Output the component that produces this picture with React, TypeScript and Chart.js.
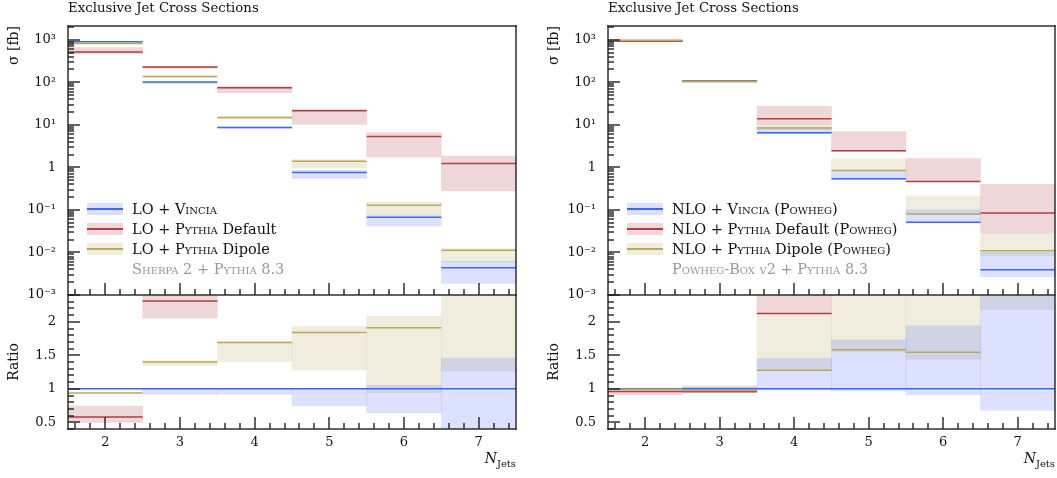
import React, { useEffect, useRef } from 'react';
import { Chart, registerables } from 'chart.js';

Chart.register(...registerables);

const FONT = "'DejaVu Serif', serif";

// ---------- axes ----------
const categories = [2, 3, 4, 5, 6, 7];
const xTickValues = [2, 3, 4, 5, 6, 7];
const yTickValues = [1e-3, 1e-2, 1e-1, 1, 10, 100, 1000];
const yTickLabels = ['10⁻³', '10⁻²', '10⁻¹', '1', '10¹', '10²', '10³'];
const ratioTickValues = [0.5, 1, 1.5, 2];
const ratioTickLabels = ['0.5', '1', '1.5', '2'];
const xMin = 1.5, xMax = 7.5;
const yMin = 1e-3, yMax = 2100;
const ratioMin = 0.4, ratioMax = 2.4;

// ---------- LO panel (cross sections, fb) ----------
const loVincia = [890, 101, 8.7, 0.755, 0.0675, 0.00437];
const loVinciaLo = [875, 93, 8.2, 0.546, 0.042, 0.00186];
const loVinciaHi = [905, 102, 9.0, 0.855, 0.076, 0.0062];
const loDefault = [512, 228, 74.6, 21.5, 5.28, 1.23];
const loDefaultLo = [470, 212, 57, 10.2, 1.75, 0.28];
const loDefaultHi = [650, 238, 79, 23, 6.56, 1.85];
const loDipole = [820, 137, 14.8, 1.39, 0.129, 0.0113];
const loDipoleLo = [805, 131, 13.8, 0.97, 0.076, 0.006];
const loDipoleHi = [835, 142, 15.4, 1.52, 0.151, 0.0124];

// LO ratios
const rLoVincia = [1, 1, 1, 1, 1, 1];
const rLoVinciaLo = [null, 0.916, 0.916, 0.743, 0.644, 0.3];
const rLoVinciaHi = [null, 1.0, 1.0, 1.0, 1.054, 1.46];
const rLoDefault = [0.58, 2.31, 8.6, 28.5, 78, 281];
const rLoDefaultLo = [0.5, 2.054, null, null, null, null];
const rLoDefaultHi = [0.743, 2.6, null, null, null, null];
const rLoDipole = [0.936, 1.4, 1.69, 1.84, 1.91, 2.59];
const rLoDipoleLo = [null, 1.35, 1.41, 1.277, 0.94, 1.267];
const rLoDipoleHi = [null, 1.42, 1.71, 1.93, 2.08, 3.0];

// ---------- NLO panel ----------
const nloVincia = [960, 108, 6.5, 0.537, 0.051, 0.0039];
const nloVinciaLo = [950, 106, 6.1, 0.52, 0.049, 0.0027];
const nloVinciaHi = [970, 110, 8.8, 0.84, 0.1, 0.01];
const nloDefault = [925, 104, 13.8, 2.44, 0.464, 0.085];
const nloDefaultLo = [915, 102, 10.4, 2.4, 0.46, 0.028];
const nloDefaultHi = [935, 106, 27, 6.9, 1.6, 0.4];
const nloDipole = [960, 106, 8.36, 0.84, 0.0805, 0.011];
const nloDipoleLo = [950, 104, 7.6, 0.81, 0.08, 0.0084];
const nloDipoleHi = [970, 108, 10.4, 1.58, 0.21, 0.027];

// NLO ratios
const rNloVincia = [1, 1, 1, 1, 1, 1];
const rNloVinciaLo = [0.99, 0.98, 0.98, 0.97, 0.91, 0.68];
const rNloVinciaHi = [1.01, 1.02, 1.455, 1.73, 1.94, 3.0];
const rNloDefault = [0.96, 0.955, 2.124, 4.5, 9.1, 21.8];
const rNloDefaultLo = [0.91, 0.955, 2.12, null, null, null];
const rNloDefaultHi = [1.0, 1.04, 2.6, null, null, null];
const rNloDipole = [0.995, 0.975, 1.277, 1.584, 1.545, 2.82];
const rNloDipoleLo = [null, null, 1.27, 1.55, 1.44, 2.18];
const rNloDipoleHi = [null, null, 2.12, 2.6, 2.6, 3.0];

// ---------- styles ----------
const BLUE = '#3b68ee';
const BLUE_BAND = 'rgba(80,105,255,0.2)';
const RED = '#b03f40';
const RED_BAND = 'rgba(175,55,65,0.2)';
const OLIVE = '#b9aa55';
const OLIVE_BAND = 'rgba(185,175,110,0.22)';
const AXIS = '#222';

function bandDs(lo: (number | null)[], hi: (number | null)[], color: string, axis: string, order: number) {
  const data: any[] = [];
  categories.forEach((c, i) => {
    if (lo[i] != null && hi[i] != null) data.push({ x: c, y: [lo[i], hi[i]] });
  });
  return {
    type: 'bar',
    data,
    backgroundColor: color,
    borderWidth: 0,
    grouped: false,
    barPercentage: 1,
    categoryPercentage: 1,
    yAxisID: axis,
    order,
    clip: 0,
  };
}

function lineDs(vals: number[], color: string, axis: string, order: number) {
  const data: any[] = [];
  categories.forEach((c, i) => {
    data.push({ x: c - 0.5, y: vals[i] });
    data.push({ x: c + 0.5, y: vals[i] });
    data.push({ x: c + 0.5, y: null });
  });
  return {
    type: 'line',
    data,
    borderColor: color,
    borderWidth: 1.5,
    pointRadius: 0,
    fill: false,
    spanGaps: false,
    tension: 0,
    yAxisID: axis,
    order,
    clip: 0,
  };
}

const framePlugin = {
  id: 'frame',
  afterDraw(chart: any) {
    const ctx = chart.ctx as CanvasRenderingContext2D;
    const x = chart.scales.x;
    const y = chart.scales.y;
    const r = chart.scales.ratio;
    ctx.save();
    ctx.fillStyle = AXIS;
    const W = 1.4;
    const L = Math.round(x.left);
    const R = Math.round(x.right);
    const T = Math.round(y.top);
    const M = Math.round(y.bottom);
    const B = Math.round(r.bottom);
    // frame
    ctx.fillRect(L - 0.7, T - 0.7, R - L + 1.4, W);
    ctx.fillRect(L - 0.7, M - 0.7, R - L + 1.4, W);
    ctx.fillRect(L - 0.7, B - 0.7, R - L + 1.4, W);
    ctx.fillRect(L - 0.7, T - 0.7, W, B - T + 1.4);
    ctx.fillRect(R - 0.7, T - 0.7, W, B - T + 1.4);
    // x ticks (major at integers, minor every 0.2)
    for (let k = 8; k <= 37; k++) {
      const px = Math.round(x.getPixelForValue(k / 5));
      const len = k % 5 === 0 ? 12 : 6;
      ctx.fillRect(px - 0.7, M - len, 1.4, len);
      ctx.fillRect(px - 0.7, B - len, 1.4, len);
    }
    // log y ticks
    for (let e = -3; e <= 3; e++) {
      for (let m = 1; m <= 9; m++) {
        const v = m * Math.pow(10, e);
        if (v > yMax || v < yMin) continue;
        const py = Math.round(y.getPixelForValue(v));
        const len = m === 1 ? 12 : 6;
        ctx.fillRect(L, py - 0.7, len, 1.4);
      }
    }
    // ratio y ticks
    for (let k = 4; k <= 24; k++) {
      const py = Math.round(r.getPixelForValue(k / 10));
      const len = k % 5 === 0 ? 12 : 6;
      ctx.fillRect(L, py - 0.7, len, 1.4);
    }
    ctx.restore();
  },
};

type Series = { vals: number[]; lo: (number | null)[]; hi: (number | null)[]; line: string; band: string };

function buildDatasets(top: Series[], ratio: Series[]) {
  const ds: any[] = [];
  // bands drawn first (higher order), lines last; olive line on top, blue at the bottom
  top.forEach((s, i) => ds.push(bandDs(s.lo, s.hi, s.band, 'y', 10 + i)));
  ratio.forEach((s, i) => ds.push(bandDs(s.lo, s.hi, s.band, 'ratio', 10 + i)));
  top.forEach((s, i) => ds.push(lineDs(s.vals, s.line, 'y', 3 - i)));
  ratio.forEach((s, i) => ds.push(lineDs(s.vals, s.line, 'ratio', 3 - i)));
  return ds;
}

const tickFont = { family: FONT, size: 13 };

function makeOptions(padRight: number) {
  return {
    responsive: false,
    animation: false,
    events: [],
    layout: { padding: { top: 26, right: padRight, left: 0, bottom: 0 } },
    plugins: { legend: { display: false }, tooltip: { enabled: false }, title: { display: false } },
    scales: {
      x: {
        type: 'linear',
        min: xMin,
        max: xMax,
        offset: false,
        grid: { display: false, drawTicks: false },
        border: { display: false },
        afterBuildTicks: (s: any) => {
          s.ticks = xTickValues.map((v) => ({ value: v }));
        },
        afterFit: (s: any) => {
          s.height = 49;
        },
        ticks: {
          font: tickFont,
          color: '#111',
          padding: 6,
          autoSkip: false,
          maxRotation: 0,
          callback: (v: any) => String(v),
        },
      },
      ratio: {
        type: 'linear',
        axis: 'y',
        position: 'left',
        stack: 'panel',
        stackWeight: 134,
        weight: 0,
        min: ratioMin,
        max: ratioMax,
        grid: { display: false, drawTicks: false },
        border: { display: false },
        afterBuildTicks: (s: any) => {
          s.ticks = ratioTickValues.map((v) => ({ value: v }));
        },
        afterFit: (s: any) => {
          s.width = 68;
        },
        ticks: {
          font: tickFont,
          color: '#111',
          padding: 12,
          autoSkip: false,
          callback: (v: any) => {
            const i = ratioTickValues.findIndex((t) => Math.abs(t - v) < 1e-9);
            return i >= 0 ? ratioTickLabels[i] : '';
          },
        },
        title: {
          display: true,
          text: 'Ratio',
          font: { family: FONT, size: 14 },
          color: '#111',
          padding: { top: 6, bottom: 0 },
        },
      },
      y: {
        type: 'logarithmic',
        position: 'left',
        stack: 'panel',
        stackWeight: 269,
        weight: 1,
        min: yMin,
        max: yMax,
        grid: { display: false, drawTicks: false },
        border: { display: false },
        afterBuildTicks: (s: any) => {
          s.ticks = yTickValues.map((v) => ({ value: v }));
        },
        afterFit: (s: any) => {
          s.width = 68;
        },
        ticks: {
          font: tickFont,
          color: '#111',
          padding: 12,
          autoSkip: false,
          callback: (v: any) => {
            const i = yTickValues.findIndex((t) => Math.abs(Math.log10(t) - Math.log10(v)) < 1e-6);
            return i >= 0 ? yTickLabels[i] : '';
          },
        },
        title: {
          display: true,
          text: 'σ [fb]',
          align: 'end',
          font: { family: FONT, size: 14 },
          color: '#111',
          padding: { top: 6, bottom: 0 },
        },
      },
    },
  };
}

const SC = ({ children }: any) => <span style={{ fontVariant: 'small-caps' }}>{children}</span>;

function LegendRow({ top, band, line, children }: any) {
  return (
    <div
      style={{
        position: 'absolute',
        left: 87,
        top,
        height: 20,
        display: 'flex',
        alignItems: 'center',
        whiteSpace: 'nowrap',
      }}
    >
      <div style={{ position: 'relative', width: 36, height: 12, background: band }}>
        <div style={{ position: 'absolute', left: 0, right: 0, top: 5, height: 1.5, background: line }} />
      </div>
      <span style={{ marginLeft: 9, fontFamily: FONT, fontSize: 14.5, color: '#111', lineHeight: '20px' }}>
        {children}
      </span>
    </div>
  );
}

function Panel({ left, width, padRight, top, ratio, labels, note }: any) {
  const ref = useRef<HTMLCanvasElement>(null);
  useEffect(() => {
    const chart = new Chart(ref.current as HTMLCanvasElement, {
      type: 'bar',
      data: { datasets: buildDatasets(top, ratio) },
      options: makeOptions(padRight) as any,
      plugins: [framePlugin],
    } as any);
    return () => chart.destroy();
  }, []);
  const plotRight = width - padRight;
  return (
    <div style={{ position: 'absolute', left, top: 0, width, height: 478 }}>
      <canvas ref={ref} width={width} height={478} style={{ position: 'absolute', left: 0, top: 0 }} />
      <div
        style={{
          position: 'absolute',
          left: 68,
          top: 0,
          fontFamily: FONT,
          fontSize: 13.3,
          lineHeight: '15px',
          color: '#111',
          whiteSpace: 'nowrap',
        }}
      >
        Exclusive Jet Cross Sections
      </div>
      <LegendRow top={199} band={BLUE_BAND} line={BLUE}>{labels[0]}</LegendRow>
      <LegendRow top={219} band={RED_BAND} line={RED}>{labels[1]}</LegendRow>
      <LegendRow top={239} band={OLIVE_BAND} line={OLIVE}>{labels[2]}</LegendRow>
      <div
        style={{
          position: 'absolute',
          left: 132,
          top: 259,
          fontFamily: FONT,
          fontSize: 14.5,
          lineHeight: '20px',
          color: '#999',
          whiteSpace: 'nowrap',
          fontVariant: 'small-caps',
        }}
      >
        {note}
      </div>
      <div
        style={{
          position: 'absolute',
          left: 0,
          width: plotRight,
          top: 450,
          textAlign: 'right',
          fontFamily: FONT,
          fontSize: 14,
          lineHeight: '16px',
          color: '#111',
          whiteSpace: 'nowrap',
        }}
      >
        <i>N</i>
        <sub style={{ fontSize: 10 }}>Jets</sub>
      </div>
    </div>
  );
}

const loTop: Series[] = [
  { vals: loVincia, lo: loVinciaLo, hi: loVinciaHi, line: BLUE, band: BLUE_BAND },
  { vals: loDefault, lo: loDefaultLo, hi: loDefaultHi, line: RED, band: RED_BAND },
  { vals: loDipole, lo: loDipoleLo, hi: loDipoleHi, line: OLIVE, band: OLIVE_BAND },
];
const loRatio: Series[] = [
  { vals: rLoVincia, lo: rLoVinciaLo, hi: rLoVinciaHi, line: BLUE, band: BLUE_BAND },
  { vals: rLoDefault, lo: rLoDefaultLo, hi: rLoDefaultHi, line: RED, band: RED_BAND },
  { vals: rLoDipole, lo: rLoDipoleLo, hi: rLoDipoleHi, line: OLIVE, band: OLIVE_BAND },
];
const nloTop: Series[] = [
  { vals: nloVincia, lo: nloVinciaLo, hi: nloVinciaHi, line: BLUE, band: BLUE_BAND },
  { vals: nloDefault, lo: nloDefaultLo, hi: nloDefaultHi, line: RED, band: RED_BAND },
  { vals: nloDipole, lo: nloDipoleLo, hi: nloDipoleHi, line: OLIVE, band: OLIVE_BAND },
];
const nloRatio: Series[] = [
  { vals: rNloVincia, lo: rNloVinciaLo, hi: rNloVinciaHi, line: BLUE, band: BLUE_BAND },
  { vals: rNloDefault, lo: rNloDefaultLo, hi: rNloDefaultHi, line: RED, band: RED_BAND },
  { vals: rNloDipole, lo: rNloDipoleLo, hi: rNloDipoleHi, line: OLIVE, band: OLIVE_BAND },
];

const loLabels = [
  <>LO + <SC>Vincia</SC></>,
  <>LO + <SC>Pythia</SC> Default</>,
  <>LO + <SC>Pythia</SC> Dipole</>,
];
const nloLabels = [
  <>NLO + <SC>Vincia</SC> (<SC>Powheg</SC>)</>,
  <>NLO + <SC>Pythia</SC> Default (<SC>Powheg</SC>)</>,
  <>NLO + <SC>Pythia</SC> Dipole (<SC>Powheg</SC>)</>,
];

export default function App() {
  return (
    <div style={{ position: 'absolute', left: 0, top: 0, width: 1057, height: 478, background: '#fff', overflow: 'hidden' }}>
      <Panel left={0} width={528} padRight={12} top={loTop} ratio={loRatio} labels={loLabels} note="Sherpa 2 + Pythia 8.3" />
      <Panel left={540} width={517} padRight={2} top={nloTop} ratio={nloRatio} labels={nloLabels} note="Powheg-Box v2 + Pythia 8.3" />
    </div>
  );
}
